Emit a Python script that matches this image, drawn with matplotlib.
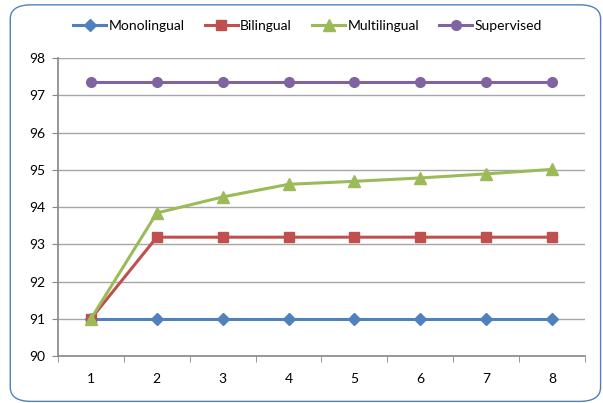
import matplotlib
matplotlib.use("Agg")
from matplotlib import pyplot as plt
from matplotlib.patches import FancyBboxPatch

x = [1, 2, 3, 4, 5, 6, 7, 8]
monolingual = [91.0, 91.0, 91.0, 91.0, 91.0, 91.0, 91.0, 91.0]
bilingual = [91.0, 93.19, 93.19, 93.19, 93.19, 93.19, 93.19, 93.19]
multilingual = [91.0, 93.84, 94.27, 94.61, 94.69, 94.78, 94.89, 95.01]
supervised = [97.36, 97.36, 97.36, 97.36, 97.36, 97.36, 97.36, 97.36]

plt.rcParams["font.family"] = ["Lato", "DejaVu Sans"]

fig = plt.figure(figsize=(6.03, 4.03), dpi=100)
# rounded chart border, behind everything
border = FancyBboxPatch((0.017, 0.004), 0.979, 0.984, boxstyle="round,pad=0,rounding_size=0.035",
                        transform=fig.transFigure, fc="white", ec="#4F81BD", lw=1.0, zorder=-10)
fig.patches.append(border)

ax = fig.add_axes([0.0962, 0.1166, 0.8738, 0.7394])
ax.set_facecolor("none")
ax.set_zorder(5)

ax.plot(x, monolingual, color="#4F81BD", lw=2.2, marker="D", ms=6.5, label="Monolingual")
ax.plot(x, bilingual, color="#C0504D", lw=2.2, marker="s", ms=7.5, label="Bilingual")
ax.plot(x, multilingual, color="#9BBB59", lw=2.2, marker="^", ms=8, label="Multilingual")
ax.plot(x, supervised, color="#8064A2", lw=2.2, marker="o", ms=7, label="Supervised")

ax.set_xlim(0.5, 8.5)
ax.set_ylim(90, 98)
ax.set_yticks(range(90, 99))
ax.set_xticks(x)
ax.set_xticks([i + 0.5 for i in range(0, 9)], minor=True)
ax.tick_params(axis="x", which="major", length=0, pad=12, labelsize=10)
ax.tick_params(axis="x", which="minor", length=4, color="#868686", direction="out")
ax.tick_params(axis="y", length=4, color="#868686", labelsize=10, pad=5)
ax.grid(axis="y", color="#A6A6A6", lw=1)
ax.set_axisbelow(True)
for s in ["top", "right"]:
    ax.spines[s].set_visible(False)
for s in ["left", "bottom"]:
    ax.spines[s].set_color("#868686")
    ax.spines[s].set_linewidth(1.2)

leg = fig.legend(loc="center", bbox_to_anchor=(0.51, 0.935), ncol=4, frameon=False,
                 fontsize=10, handlelength=2.4, columnspacing=1.45, handletextpad=0.15)
leg.set_zorder(6)

fig.savefig("out.png", dpi=100)
